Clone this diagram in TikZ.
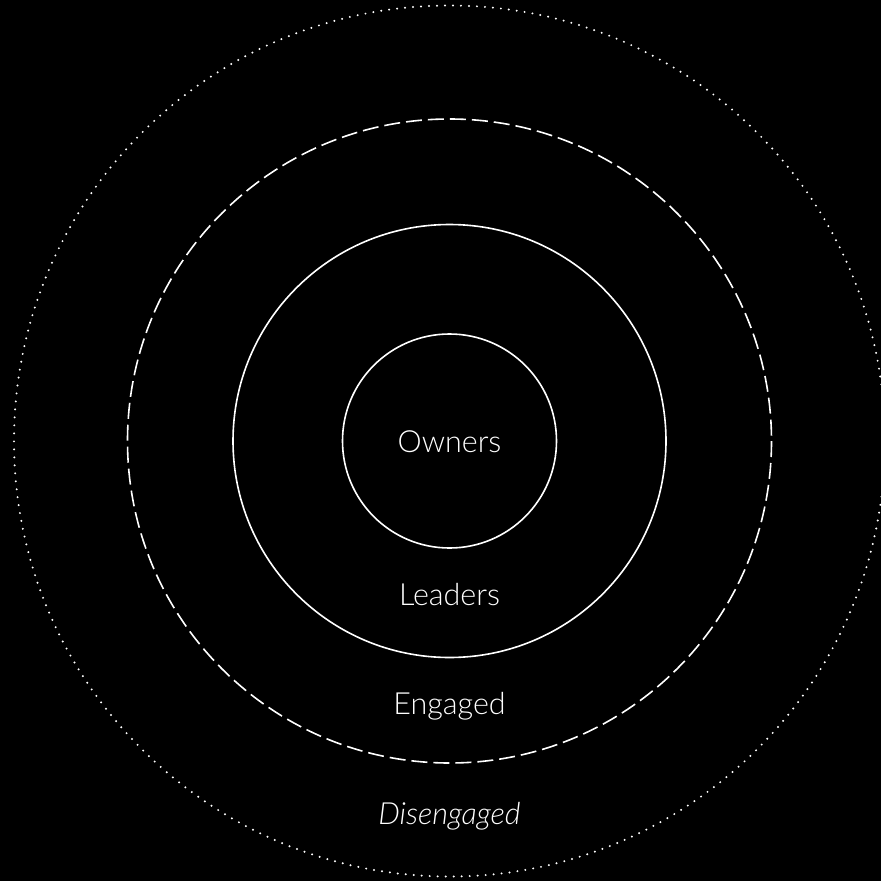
\documentclass[tikz,border=0pt]{standalone}
\usepackage{fontspec}
\setmainfont{Lato Light}[ItalicFont={Lato Light Italic}]
\begin{document}
\begin{tikzpicture}[x=1pt,y=-1pt,
  ring/.style={draw=white,line width=1.6pt},
  dashring/.style={draw=white,line width=1.6pt,dash pattern=on 16pt off 6pt},
  dotring/.style={draw=white,line width=2.2pt,line cap=round,dash pattern=on 0pt off 8pt},
  lbl/.style={text=white,font=\fontsize{30.5}{34}\selectfont,inner sep=0pt,anchor=base}]
\fill[black] (0,0) rectangle (881,881);
\useasboundingbox (0,0) rectangle (881,881);
\coordinate (c) at (449.5,441);
\draw[dotring] (c) circle (435.5);
\draw[dashring] (c) circle (322);
\draw[ring] (c) circle (216.5);
\draw[ring] (c) circle (107);
\node[lbl] (owners) at (449.5,452) {Owners};
\node[lbl] (leaders) at (449.5,605) {Leaders};
\node[lbl] (engaged) at (449.5,714) {Engaged};
\node[lbl] (disengaged) at (449.5,824) {\itshape Disengaged};
\end{tikzpicture}
\end{document}
